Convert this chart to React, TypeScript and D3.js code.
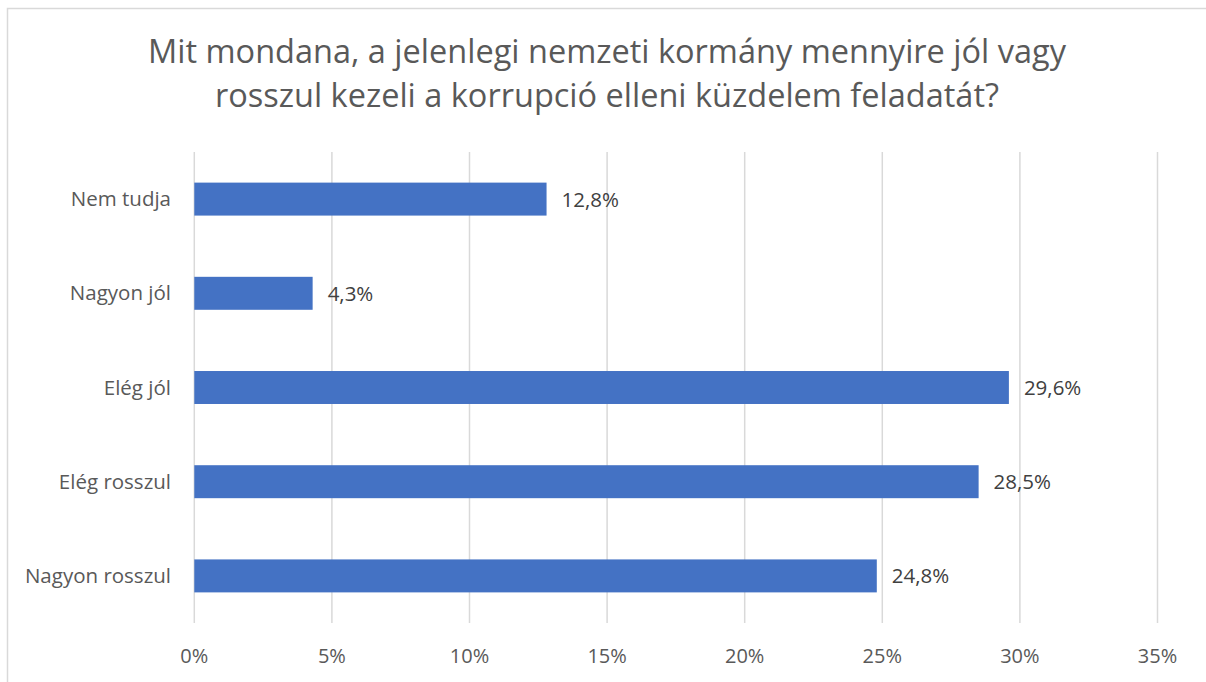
import React from "react";
import * as d3 from "d3";

const titleLines = [
  "Mit mondana, a jelenlegi nemzeti kormány mennyire jól vagy",
  "rosszul kezeli a korrupció elleni küzdelem feladatát?",
];
const categories = ["Nem tudja", "Nagyon jól", "Elég jól", "Elég rosszul", "Nagyon rosszul"];
const values = [12.8, 4.3, 29.6, 28.5, 24.8];
const ticks = [0, 5, 10, 15, 20, 25, 30, 35];

const W = 1206;
const H = 682;
const FONT = "'Open Sans', sans-serif";

export default function App() {
  const x = d3.scaleLinear().domain([0, 35]).range([194.3, 1157.5]);
  const y = d3.scaleBand<string>().domain(categories).range([152, 623]).paddingInner(0.65).paddingOuter(0.325);
  const fmt = (v: number) => v.toFixed(1).replace(".", ",") + "%";
  return (
    <svg width={W} height={H} style={{ position: "absolute", left: 0, top: 0 }}>
      <rect x={0} y={0} width={W} height={H} fill="#fff" />
      <rect x={7.5} y={8.5} width={1300} height={800} fill="#fff" stroke="#D9D9D9" strokeWidth={1.5} />
      {titleLines.map((t, i) => (
        <text key={i} x={607} y={63 + i * 44} textAnchor="middle" fontFamily={FONT} fontSize={32.5} fill="#595959">
          {t}
        </text>
      ))}
      {ticks.map((t) => (
        <line key={t} x1={x(t)} x2={x(t)} y1={152} y2={623} stroke="#D9D9D9" strokeWidth={1.5} />
      ))}
      {ticks.map((t) => (
        <text key={"t" + t} x={x(t)} y={663} textAnchor="middle" fontFamily={FONT} fontSize={20} fill="#595959">
          {t + "%"}
        </text>
      ))}
      {categories.map((c, i) => (
        <g key={c}>
          <rect x={x(0)} y={y(c)!} width={x(values[i]) - x(0)} height={y.bandwidth()} fill="#4472C4" />
          <text x={171} y={y(c)! + y.bandwidth() / 2 + 7} textAnchor="end" fontFamily={FONT} fontSize={20.5} fill="#595959">
            {c}
          </text>
          <text x={x(values[i]) + 15} y={y(c)! + y.bandwidth() / 2 + 7.5} fontFamily={FONT} fontSize={20.5} fill="#404040">
            {fmt(values[i])}
          </text>
        </g>
      ))}
    </svg>
  );
}
